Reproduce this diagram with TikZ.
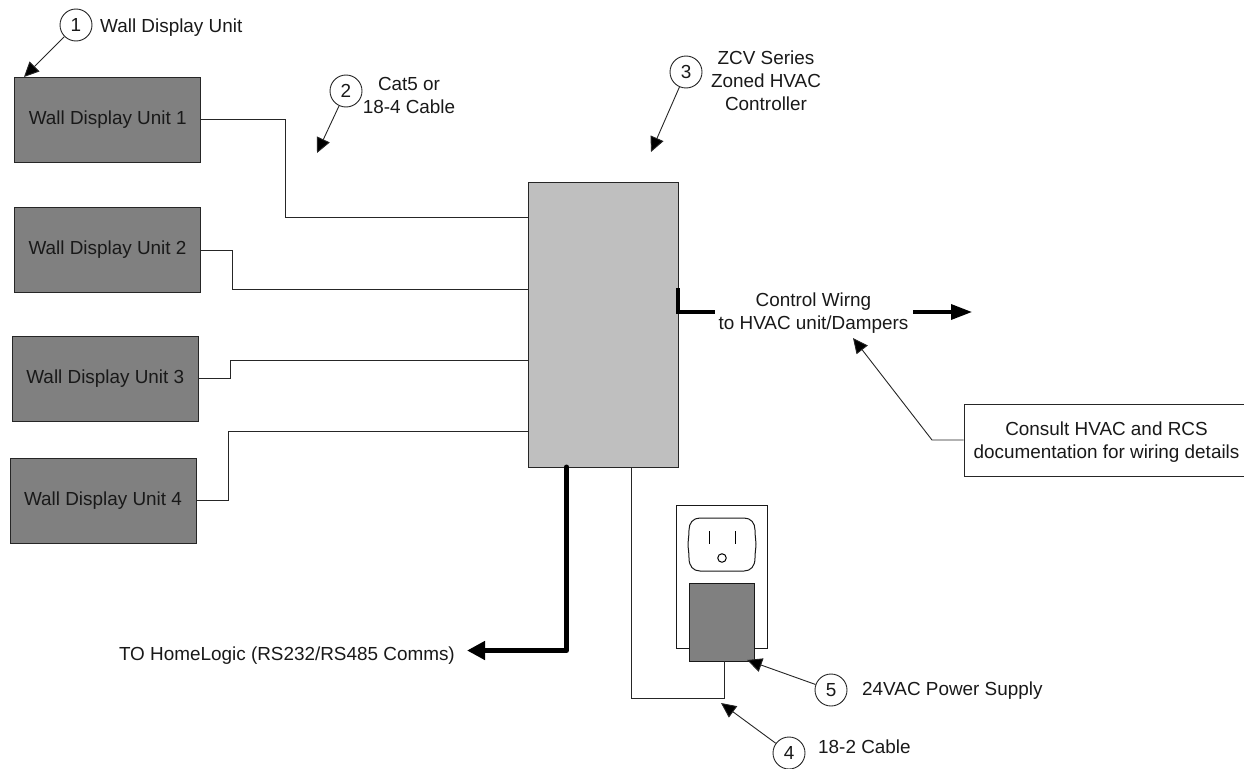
\documentclass[tikz,border=0pt]{standalone}
\usepackage{fontspec}
\setmainfont{Liberation Sans}
\usetikzlibrary{arrows.meta}
\definecolor{darkbox}{gray}{0.5}
\definecolor{ctrlgray}{gray}{0.75}
\tikzset{
  x=1pt,y=-1pt,
  lbl/.style={font=\fontsize{18.9}{23}\selectfont,inner sep=0pt,align=center,text=black!90},
  unitbox/.style={draw=black!85,line width=1pt,fill=darkbox,minimum width=186pt,minimum height=85pt,inner sep=0pt,font=\fontsize{18.9}{23}\selectfont,text=black!90},
  badge/.style={circle,draw=black!85,line width=0.9pt,fill=white,minimum size=32pt,inner sep=0pt,font=\fontsize{18.9}{23}\selectfont,text=black!90},
  wire/.style={draw=black!85,line width=0.9pt},
  thick wire/.style={draw=black,line width=5pt,line cap=round,line join=round},
  ctrl wire/.style={draw=black,line width=3.4pt},
  callout/.style={draw=black!85,line width=0.9pt,-{Triangle[length=15pt,width=14pt,fill=black]}},
  bigtip/.style={-{Triangle[length=18pt,width=18pt]}},
  widetip/.style={-{Triangle[length=21pt,width=15pt]}}
}
\begin{document}
\begin{tikzpicture}
\useasboundingbox (0,0) rectangle (1244,768);
% units
\node[unitbox] (u1) at (107.7,119.5) {Wall Display Unit 1};
\node[unitbox] (u2) at (107.5,250) {Wall Display Unit 2};
\node[unitbox] (u3) at (105.3,378.5) {Wall Display Unit 3};
\node[unitbox] (u4) at (103,500.5) {Wall Display Unit 4};
% controller
\node[draw=black!85,line width=1pt,fill=ctrlgray,minimum width=150pt,minimum height=285pt,inner sep=0pt] (ctrl) at (603,324.5) {};
\coordinate (c1) at (528,217);
\coordinate (c2) at (528,289);
\coordinate (c3) at (528,360);
\coordinate (c4) at (528,431);
\coordinate (b1) at (285,119.5);
\coordinate (b2) at (232.7,250);
\coordinate (b3) at (230.5,378.5);
\coordinate (b4) at (228.7,500.5);
\draw[wire] (u1.east) -- (b1) |- (c1);
\draw[wire] (u2.east) -- (b2) |- (c2);
\draw[wire] (u3.east) -- (b3) |- (c3);
\draw[wire] (u4.east) -- (b4) |- (c4);
% outlet
\node[draw=black!90,line width=1pt,fill=white,minimum width=91pt,minimum height=143pt,inner sep=0pt] (plate) at (721.5,576.5) {};
\draw[black!90,line width=1pt,fill=white] (700,518) -- (744,518)
  .. controls (751,518) and (755,523) .. (755,530)
  .. controls (755,537) and (756,540) .. (756,544)
  .. controls (756,548) and (755,552) .. (755,558)
  .. controls (755,566) and (751,571) .. (744,571)
  -- (700,571)
  .. controls (693,571) and (689,566) .. (689,558)
  .. controls (689,552) and (688,548) .. (688,544)
  .. controls (688,540) and (689,537) .. (689,530)
  .. controls (689,523) and (693,518) .. (700,518) -- cycle;
\coordinate (s1a) at (709,531); \coordinate (s1b) at (709,544);
\coordinate (s2a) at (735,531); \coordinate (s2b) at (735,544);
\draw[line width=1pt] (s1a) -- (s1b);
\draw[line width=1pt] (s2a) -- (s2b);
\node[circle,draw=black,line width=1pt,minimum size=8.5pt,inner sep=0pt] (gnd) at (722,558) {};
\node[draw=black!90,line width=1pt,fill=darkbox,minimum width=65pt,minimum height=78pt,inner sep=0pt] (plug) at (721.5,622) {};
% power cable
\coordinate (pw1) at (631,467);
\coordinate (pw2) at (631,698.5);
\coordinate (pw3) at (724,698.5);
\coordinate (pw4) at (724,661);
\draw[wire] (pw1) -- (pw2) -- (pw3) -- (pw4);
% comms
\coordinate (hl1) at (566.5,467);
\coordinate (hl2) at (566.5,650.5);
\coordinate (hl3) at (467,650.5);
\draw[thick wire,bigtip] (hl1) -- (hl2) -- (hl3);
\node[lbl,anchor=east] (hl) at (455,656) {TO HomeLogic (RS232/RS485 Comms)};
% control wiring
\coordinate (cw0) at (678,288);
\coordinate (cw1) at (678,312);
\coordinate (cw2) at (715,312);
\coordinate (cw3) at (913,312);
\coordinate (cw4) at (972,312);
\draw[ctrl wire] (cw0) -- (cw1) -- (cw2);
\draw[ctrl wire,widetip] (cw3) -- (cw4);
\node[lbl] (cw) at (813.5,313.5) {Control Wirng\\to HVAC unit/Dampers};
% note (runs off the right edge)
\node[draw=black!85,line width=1pt,fill=white,minimum width=300pt,minimum height=72pt,inner sep=0pt] (note) at (1114,440) {};
\node[lbl] (notetext) at (1106.5,442) {Consult HVAC and RCS\\documentation for wiring details};
\coordinate (nb) at (932,440);
\coordinate (nt) at (853,338);
\draw[callout] (note.west) -- (nb) -- (nt);
% badges
\node[badge] (n1) at (76,25) {1};
\node[badge] (n2) at (346,91) {2};
\node[badge] (n3) at (686,72) {3};
\node[badge] (n4) at (789,753) {4};
\node[badge] (n5) at (831,690) {5};
\coordinate (t1) at (24,77);
\coordinate (t2) at (317,153);
\coordinate (t3) at (651,152);
\coordinate (t4) at (721,703);
\coordinate (t5) at (747,660);
\draw[callout] (n1) -- (t1);
\draw[callout] (n2) -- (t2);
\draw[callout] (n3) -- (t3);
\draw[callout] (n4) -- (t4);
\draw[callout] (n5) -- (t5);
% labels
\node[lbl,anchor=west] (l1) at (100,27.5) {Wall Display Unit};
\node[lbl] (l2) at (409,95) {Cat5 or\\18-4 Cable};
\node[lbl] (l3) at (766,81) {ZCV Series\\Zoned HVAC\\Controller};
\node[lbl,anchor=west] (l4) at (818,747) {18-2 Cable};
\node[lbl,anchor=west] (l5) at (862,691) {24VAC Power Supply};
\end{tikzpicture}
\end{document}
